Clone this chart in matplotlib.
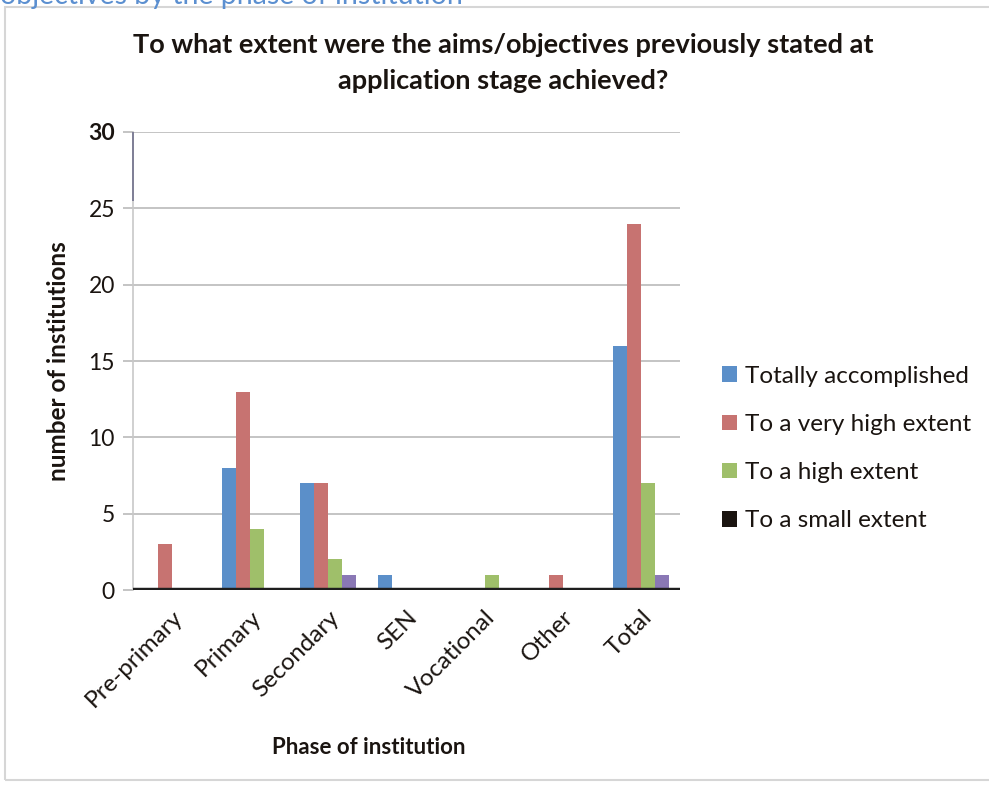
import matplotlib
matplotlib.use("Agg")
import matplotlib.pyplot as plt
from matplotlib.patches import Patch
import numpy as np

# Data
categories = ["Pre-primary", "Primary", "Secondary", "SEN", "Vocational", "Other", "Total"]
series_names = ["Totally accomplished", "To a very high extent", "To a high extent", "To a small extent"]
totally_accomplished = [0, 8, 7, 1, 0, 0, 16]
very_high_extent = [3, 13, 7, 0, 0, 1, 24]
high_extent = [0, 4, 2, 0, 1, 0, 7]
small_extent = [0, 0, 1, 0, 0, 0, 1]
y_ticks = [0, 5, 10, 15, 20, 25, 30]

series_values = [totally_accomplished, very_high_extent, high_extent, small_extent]
bar_colors = ["#5b8fc9", "#c77371", "#9fbf6a", "#8a78b5"]
legend_colors = ["#5b8fc9", "#c77371", "#9fbf6a", "#1a1410"]

plt.rcParams["font.family"] = ["Lato", "DejaVu Sans"]
text_color = "#1a1410"

fig = plt.figure(figsize=(9.89, 7.89), dpi=100)
fig.patch.set_facecolor("white")

# chart-area frame
frame = plt.Rectangle((0.005, 0.012), 1.2, 0.979, transform=fig.transFigure,
                      fill=False, edgecolor="#d6d6d6", linewidth=1.5)
fig.add_artist(frame)

# caption text from the page above the chart (runs off the top edge)
fig.text(0.0, 0.995, "objectives by the phase of institution", color="#5b8fd0",
         fontsize=20.5, ha="left", va="baseline")

ax = fig.add_axes([0.1345, 0.2522, 0.553, 0.5805])
x = np.arange(len(categories))
width = 0.18
offsets = (np.arange(len(series_values)) - 1.5) * width

for vals, off, col in zip(series_values, offsets, bar_colors):
    ax.bar(x + off, vals, width=width, color=col, zorder=3, linewidth=0)

ax.set_xlim(-0.5, len(categories) - 0.5)
ax.set_ylim(y_ticks[0], y_ticks[-1])
ax.set_yticks(y_ticks)
ax.yaxis.grid(True, color="#b4b4b4", linewidth=1.1, zorder=0)
ax.set_axisbelow(True)

for s in ["top", "right", "bottom"]:
    ax.spines[s].set_visible(False)
ax.spines["left"].set_color("#c8c8c8")
ax.spines["left"].set_linewidth(1.2)

# darker upper segment of the value axis
ax.vlines(-0.5, y_ticks[-2] + 0.5, y_ticks[-1], color="#7e7e96", linewidth=1.4, zorder=4, clip_on=False)

# category axis baseline
ax.axhline(0, color="#1e1e1e", linewidth=3.2, zorder=5)

ax.tick_params(axis="y", length=7, color="#b4b4b4", width=1.1, labelsize=16.5,
               labelcolor=text_color, pad=6)
ax.tick_params(axis="x", length=0, labelsize=17.5, labelcolor=text_color, pad=12)
ax.set_xticks(x)
ax.set_xticklabels(categories, rotation=45, ha="right", rotation_mode="anchor")
for lbl in ax.get_yticklabels():
    if lbl.get_text() == str(y_ticks[-1]):
        lbl.set_fontweight("bold")

ax.set_ylabel("number of institutions", fontsize=17.5, fontweight="bold", color=text_color)
ax.yaxis.set_label_coords(-0.115, 0.5)
ax.set_xlabel("Phase of institution", fontsize=16, fontweight="bold", color=text_color)
ax.xaxis.set_label_coords(0.431, -0.32)

fig.text(0.509, 0.958, "To what extent were the aims/objectives previously stated at\napplication stage achieved?",
         ha="center", va="top", fontsize=19.5, fontweight="bold", color=text_color, linespacing=1.6)

handles = [Patch(facecolor=c, edgecolor="none") for c in legend_colors]
fig.legend(handles, series_names, loc="center left", bbox_to_anchor=(0.708, 0.4315),
           frameon=False, fontsize=17.5, handlelength=0.6, handleheight=0.6,
           handletextpad=0.35, labelspacing=1.12, labelcolor=text_color)

fig.savefig("out.png", dpi=100)
